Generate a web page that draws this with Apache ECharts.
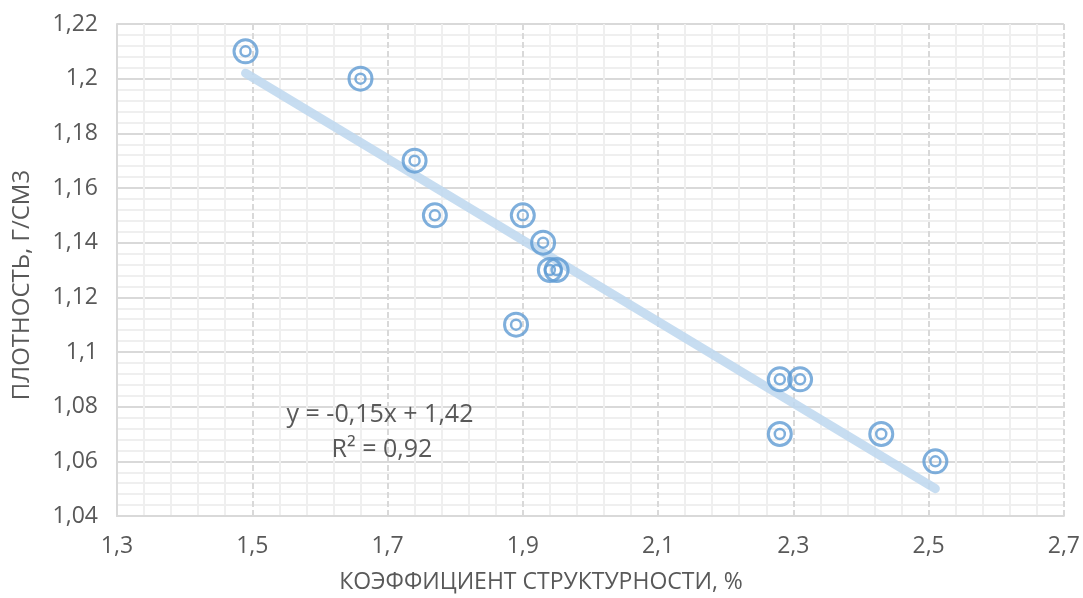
<!DOCTYPE html>
<html>
<head>
<meta charset="utf-8">
<script src="https://cdn.jsdelivr.net/npm/echarts@6/dist/echarts.min.js"></script>
<style>
  html, body { margin: 0; padding: 0; background: #fff; }
  #chart { width: 1083px; height: 598px; }
</style>
</head>
<body>
<div id="chart"></div>
<script>
// точки
const xValues = [1.49, 1.66, 1.74, 1.77, 1.90, 1.93, 1.94, 1.95, 1.89, 2.28, 2.31, 2.28, 2.43, 2.51]
const yValues = [1.21, 1.20, 1.17, 1.15, 1.15, 1.14, 1.13, 1.13, 1.11, 1.09, 1.09, 1.07, 1.07, 1.06]
// линия тренда (концы)
const trendX = [1.49, 2.51]
const trendY = [1.202, 1.050]
const equationText = 'y = -0,15x + 1,42'
const r2Text = 'R² = 0,92'
const xTitle = 'КОЭФФИЦИЕНТ СТРУКТУРНОСТИ, %'
const yTitle = 'ПЛОТНОСТЬ, Г/СМ3'

const points = xValues.map((x, i) => [x, yValues[i]])
const trend = trendX.map((x, i) => [x, trendY[i]])

const font = '"Open Sans", sans-serif'
const textColor = '#595959'
const comma = v => String(+v.toFixed(2)).replace('.', ',')

const chart = echarts.init(document.getElementById('chart'))
chart.setOption({
  animation: false,
  grid: { left: 117, right: 16, top: 24, bottom: 82 },
  xAxis: {
    type: 'value',
    min: 1.3,
    max: 2.7,
    interval: 0.2,
    axisLine: { show: true, lineStyle: { color: '#d9d9d9', width: 2 } },
    axisTick: { show: false },
    axisLabel: { color: textColor, fontSize: 23, fontFamily: font, margin: 19, formatter: comma },
    splitLine: { show: true, lineStyle: { color: '#d9d9d9', width: 2, type: [6, 3] } },
    minorTick: { show: false, splitNumber: 5 },
    minorSplitLine: { show: true, lineStyle: { color: '#efefef', width: 2 } }
  },
  yAxis: {
    type: 'value',
    min: 1.04,
    max: 1.22,
    interval: 0.02,
    axisLine: { show: true, lineStyle: { color: '#d9d9d9', width: 2 } },
    axisTick: { show: false },
    axisLabel: { color: textColor, fontSize: 23, fontFamily: font, margin: 19, formatter: comma },
    splitLine: { show: true, lineStyle: { color: '#d9d9d9', width: 2 } },
    minorTick: { show: false, splitNumber: 5 },
    minorSplitLine: { show: true, lineStyle: { color: '#efefef', width: 2 } }
  },
  graphic: [
    {
      type: 'text', x: 541, y: 582, z: 100,
      style: { text: xTitle, fill: textColor, fontSize: 23, fontFamily: font, align: 'center', verticalAlign: 'middle' }
    },
    {
      type: 'text', x: 22, y: 285, rotation: Math.PI / 2, z: 100,
      style: { text: yTitle, fill: textColor, fontSize: 24, fontFamily: font, align: 'center', verticalAlign: 'middle' }
    },
    {
      type: 'text', x: 380, y: 415, z: 100,
      style: { text: equationText, fill: textColor, fontSize: 25, fontFamily: font, align: 'center', verticalAlign: 'middle' }
    },
    {
      type: 'text', x: 382, y: 450, z: 100,
      style: { text: r2Text, fill: textColor, fontSize: 25, fontFamily: font, align: 'center', verticalAlign: 'middle' }
    }
  ],
  series: [
    {
      type: 'line',
      data: trend,
      symbol: 'none',
      lineStyle: { color: '#bdd7ee', width: 9, cap: 'round', opacity: 0.85 },
      z: 1
    },
    {
      type: 'scatter',
      data: points,
      symbol: 'circle',
      symbolSize: 23,
      itemStyle: { color: 'rgba(0,0,0,0)', borderColor: '#5f9bd3', borderWidth: 3 },
      z: 3
    },
    {
      type: 'scatter',
      data: points,
      symbol: 'circle',
      symbolSize: 10,
      itemStyle: { color: 'rgba(0,0,0,0)', borderColor: '#5f9bd3', borderWidth: 2.5 },
      z: 3
    }
  ]
})
</script>
</body>
</html>
